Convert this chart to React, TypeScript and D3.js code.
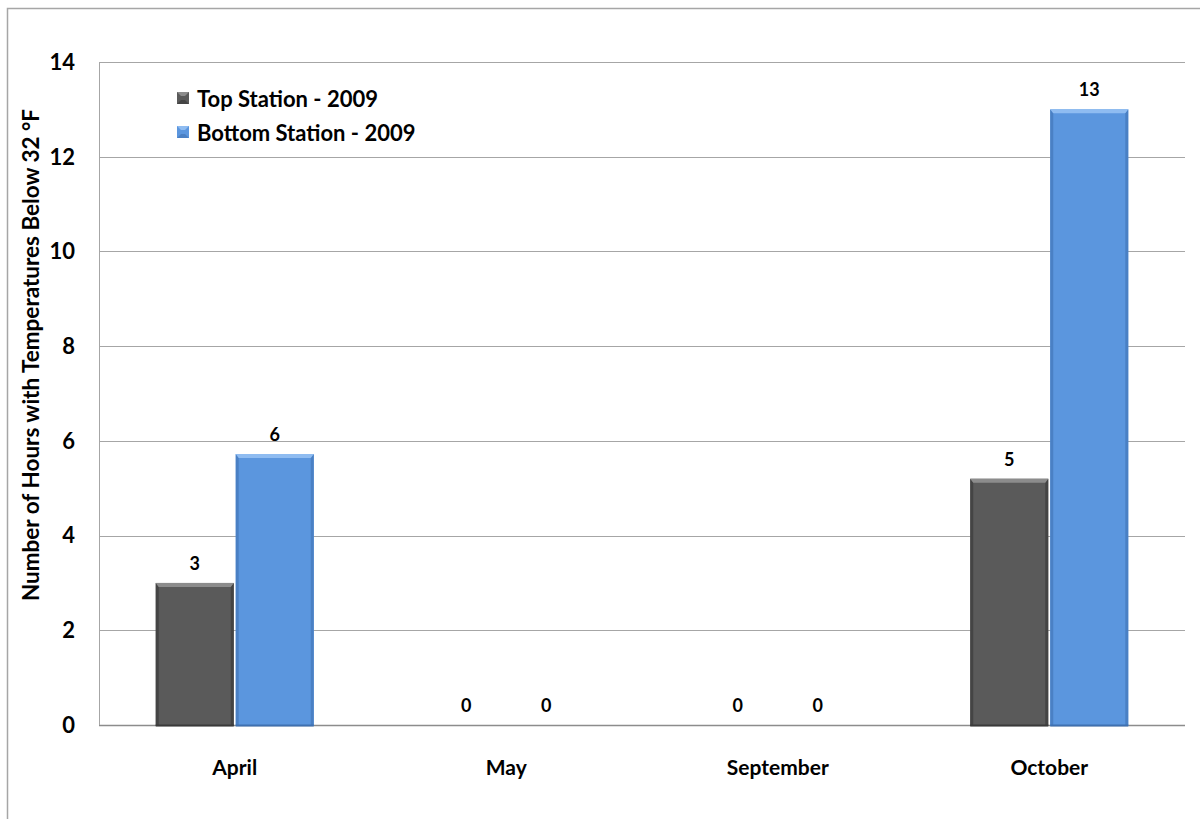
import React from "react";
import * as d3 from "d3";

// Hours below freezing per month, two weather stations
const categories = ["April", "May", "September", "October"];
const seriesNames = ["Top Station - 2009", "Bottom Station - 2009"];
const topStation = [3, 0, 0, 5.2];
const bottomStation = [5.72, 0, 0, 13];
const yTicks = [0, 2, 4, 6, 8, 10, 12, 14];
const yTitle = "Number of Hours with Temperatures Below 32 °F";

const seriesValues = [topStation, bottomStation];

const palette = [
  { base: "#5a5a5a", light: "#8c8c8c", dark: "#444444", edge: "#3a3a3a" },
  { base: "#5b96de", light: "#8fbcf1", dark: "#4a80c4", edge: "#3f70b0" },
];

const FONT = "Lato, 'Open Sans', 'DejaVu Sans', sans-serif";

const W = 1200;
const H = 819;
const plot = { left: 99, right: 1185, top: 62, bottom: 725 };

function BevelBar({ x, y, w, h, c }: { x: number; y: number; w: number; h: number; c: typeof palette[0] }) {
  if (h <= 1) return null;
  const b = Math.min(4, h / 2);
  const s = 3;
  return (
    <g>
      <rect x={x} y={y} width={w} height={h} fill={c.base} />
      {/* left and right bevel edges */}
      <polygon points={`${x},${y} ${x + s},${y + b} ${x + s},${y + h} ${x},${y + h}`} fill={c.dark} />
      <polygon points={`${x + w},${y} ${x + w - s},${y + b} ${x + w - s},${y + h} ${x + w},${y + h}`} fill={c.dark} />
      {/* top bevel */}
      <polygon points={`${x},${y} ${x + w},${y} ${x + w - s},${y + b} ${x + s},${y + b}`} fill={c.light} />
      <rect x={x} y={y + h - 1.5} width={w} height={2} fill={c.edge} />
    </g>
  );
}

export default function App() {
  const x0 = d3.scaleBand<string>().domain(categories).range([plot.left, plot.right]);
  const y = d3.scaleLinear().domain([0, 14]).range([plot.bottom, plot.top]);
  const barW = 78;
  const gap = 2;
  const fmt = d3.format(".0f");

  return (
    <svg
      width={W}
      height={H}
      style={{ position: "absolute", left: 0, top: 0, background: "#fff" }}
      fontFamily={FONT}
    >
      {/* chart frame */}
      <rect x={7.5} y={8.5} width={W} height={H} fill="none" stroke="#a6a6a6" strokeWidth={1.5} />

      {/* gridlines */}
      {yTicks.map((t) => (
        <line
          key={t}
          x1={plot.left}
          x2={plot.right}
          y1={Math.round(y(t)) + 0.5}
          y2={Math.round(y(t)) + 0.5}
          stroke={t === 0 ? "#8c8c8c" : "#a6a6a6"}
          strokeWidth={t === 0 ? 1.5 : 1}
        />
      ))}
      <line x1={plot.left + 0.5} x2={plot.left + 0.5} y1={plot.top} y2={plot.bottom} stroke="#a6a6a6" />

      {/* y tick labels */}
      {yTicks.map((t) => (
        <text
          key={t}
          x={75}
          y={y(t)}
          dy="0.36em"
          textAnchor="end"
          fontSize={22}
          fontWeight={700}
          fill="#000"
        >
          {t}
        </text>
      ))}

      {/* y axis title */}
      <text
        transform={`translate(39,355) rotate(-90)`}
        textAnchor="middle"
        fontSize={22.5}
        fontWeight={700}
        fill="#000"
      >
        {yTitle}
      </text>

      {/* bars and value labels */}
      {categories.map((cat, i) => {
        const cx = x0(cat)! + x0.bandwidth() / 2;
        return (
          <g key={cat}>
            {seriesValues.map((vals, si) => {
              const v = vals[i];
              const bx = si === 0 ? cx - gap / 2 - barW : cx + gap / 2;
              const top = y(v);
              return (
                <g key={si}>
                  <BevelBar x={bx} y={top} w={barW} h={plot.bottom + 1 - top} c={palette[si]} />
                  <text
                    x={bx + barW / 2}
                    y={top - 13}
                    textAnchor="middle"
                    fontSize={18}
                    fontWeight={700}
                    fill="#000"
                  >
                    {fmt(v)}
                  </text>
                </g>
              );
            })}
            <text x={cx} y={775} textAnchor="middle" fontSize={21} fontWeight={700} fill="#000">
              {cat}
            </text>
          </g>
        );
      })}

      {/* legend */}
      {seriesNames.map((name, i) => {
        const ly = 99 + i * 34;
        const c = palette[i];
        return (
          <g key={name}>
            <rect x={177} y={ly - 7} width={12} height={12} fill={c.base} />
            <polygon points={`${177},${ly - 7} ${189},${ly - 7} ${185},${ly - 3} ${181},${ly - 3}`} fill={c.light} />
            <polygon points={`${177},${ly + 5} ${189},${ly + 5} ${185},${ly + 1} ${181},${ly + 1}`} fill={c.dark} />
            <text x={197} y={ly} dy="0.36em" fontSize={22} fontWeight={700} fill="#000">
              {name}
            </text>
          </g>
        );
      })}
    </svg>
  );
}
